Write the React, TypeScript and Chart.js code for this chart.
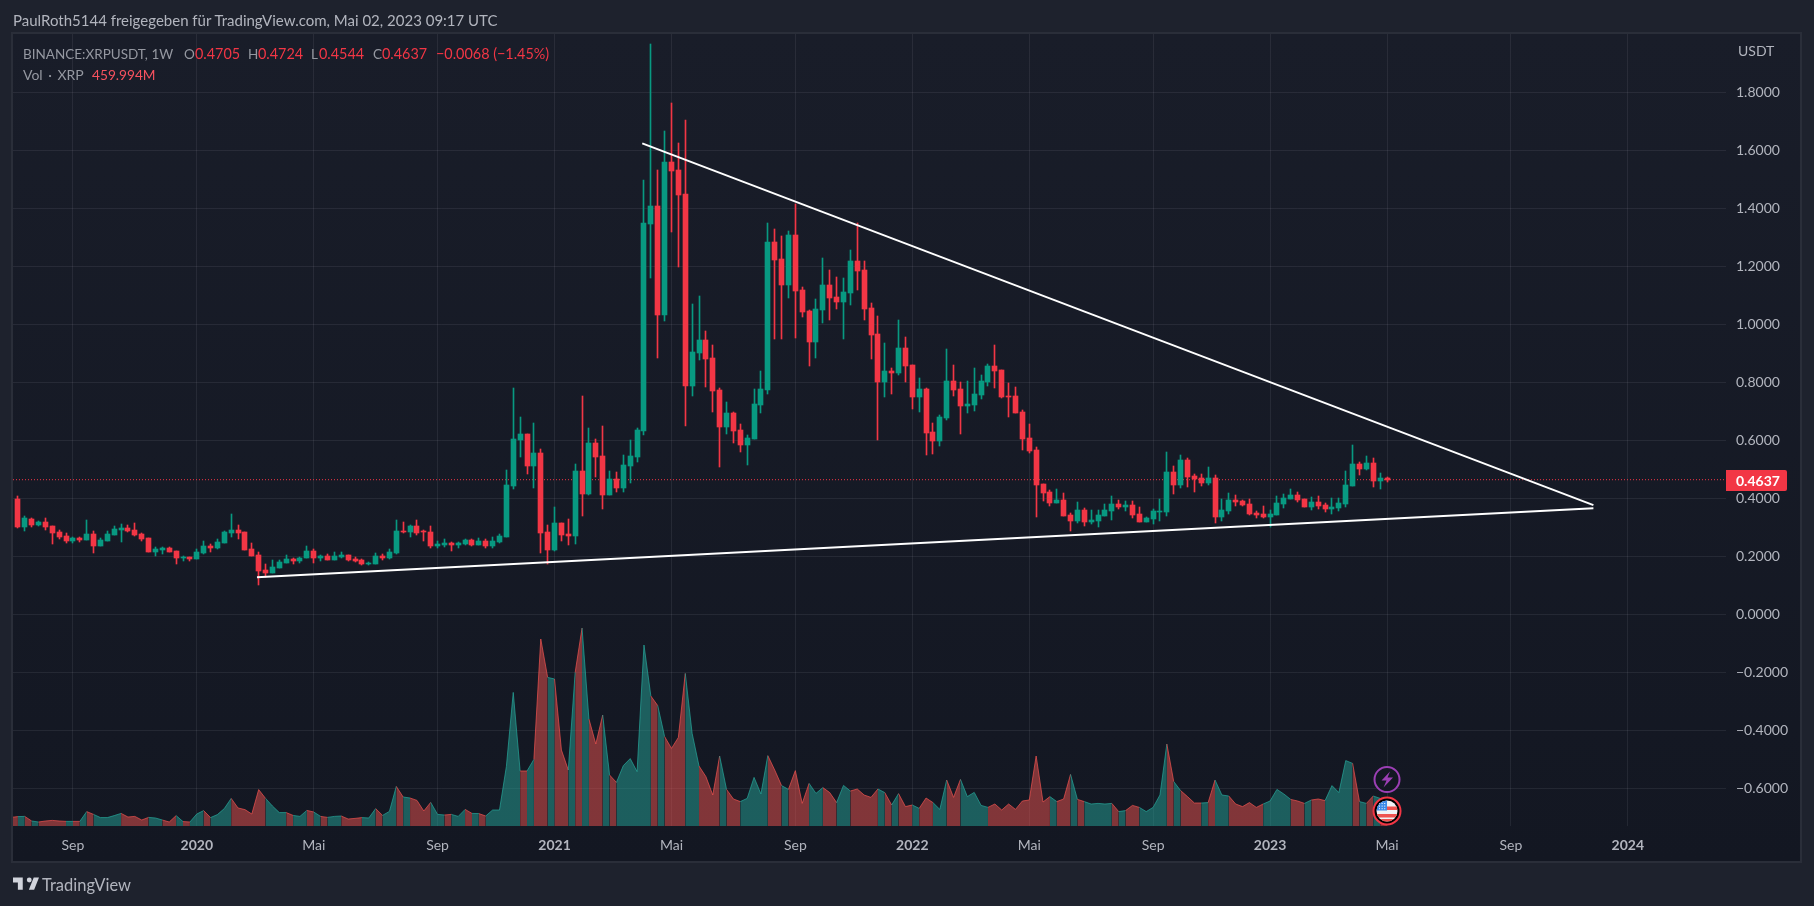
import React, { useEffect, useRef } from "react";
import { Chart, registerables } from "chart.js";

Chart.register(...registerables);

const titleText = "PaulRoth5144 freigegeben für TradingView.com, Mai 02, 2023 09:17 UTC";
const FONT = "Lato, 'Noto Sans', sans-serif";
const GREEN = "#089981";
const RED = "#F23645";

const opens = [.398,.301,.329,.308,.318,.304,.284,.270,.253,.263,.256,.277,.235,.253,.273,.291,.298,.291,.277,.263,.215,.222,.229,.218,.194,.198,.191,.211,.235,.229,.246,.280,.291,.284,.225,.205,.153,.142,.160,.177,.191,.184,.194,.218,.194,.201,.187,.198,.205,.191,.187,.173,.173,.201,.194,.211,.287,.284,.304,.287,.284,.235,.239,.246,.239,.242,.256,.239,.253,.235,.249,.267,.442,.601,.622,.511,.556,.284,.222,.315,.277,.270,.494,.415,.591,.546,.411,.467,.436,.511,.542,.632,1.346,1.408,1.032,1.5596,1.532,1.449,.787,.901,.946,.884,.773,.646,.694,.635,.584,.604,.722,.773,1.284,1.225,1.136,1.308,1.118,1.046,.939,1.049,1.1355,1.094,1.077,1.108,1.218,1.187,1.056,.9665,.801,.839,.832,.918,.860,.749,.777,.628,.597,.677,.804,.777,.718,.722,.756,.801,.856,.842,.753,.753,.698,.608,.566,.449,.422,.384,.394,.342,.322,.360,.318,.322,.339,.356,.380,.370,.377,.346,.318,.329,.353,.353,.491,.446,.532,.477,.470,.453,.470,.336,.356,.394,.391,.380,.349,.346,.336,.342,.380,.398,.411,.398,.370,.387,.377,.363,.367,.380,.442,.518,.501,.522,.460,.4705];
const highs = [.408,.339,.333,.322,.332,.304,.291,.280,.265,.266,.325,.287,.263,.287,.304,.311,.308,.315,.280,.263,.232,.232,.232,.218,.201,.198,.225,.253,.242,.260,.287,.346,.308,.284,.246,.215,.173,.187,.187,.204,.194,.198,.235,.225,.204,.208,.215,.215,.205,.198,.191,.180,.211,.208,.225,.325,.318,.308,.325,.291,.304,.253,.260,.249,.249,.260,.260,.263,.260,.266,.277,.498,.780,.680,.622,.660,.570,.308,.370,.315,.329,.518,.753,.642,.604,.649,.494,.491,.549,.601,.642,1.498,1.9665,1.532,1.6665,1.763,1.625,1.7045,1.070,1.0976,.977,.9286,.780,.732,.698,.656,.618,.777,.839,1.349,1.328,1.304,1.322,1.415,1.1286,1.049,1.087,1.228,1.187,1.163,1.1597,1.256,1.349,1.218,1.073,1.0286,.9355,.849,1.015,.956,.860,.815,.780,.660,.687,.915,.860,.801,.804,.849,.825,.863,.9286,.842,.797,.784,.704,.656,.577,.449,.429,.432,.418,.349,.387,.367,.360,.360,.380,.408,.394,.391,.391,.370,.336,.363,.398,.560,.511,.549,.539,.484,.484,.508,.480,.398,.418,.411,.394,.398,.356,.373,.360,.408,.415,.432,.422,.398,.404,.408,.384,.401,.401,.494,.584,.525,.546,.539,.487,.4724];
const lows = [.298,.287,.301,.304,.291,.242,.260,.246,.246,.249,.256,.211,.235,.253,.273,.249,.284,.270,.253,.215,.201,.209,.215,.173,.184,.184,.191,.208,.215,.225,.246,.266,.260,.222,.201,.101,.129,.142,.160,.177,.173,.177,.194,.177,.184,.187,.187,.194,.184,.180,.170,.170,.173,.187,.191,.208,.280,.266,.273,.253,.229,.229,.232,.218,.229,.239,.235,.239,.229,.229,.246,.267,.433,.542,.484,.436,.211,.173,.218,.253,.239,.242,.339,.411,.473,.363,.411,.422,.422,.453,.525,.618,1.160,.884,1.011,1.318,1.197,.649,.753,.877,.784,.698,.508,.622,.591,.560,.515,.604,.694,.760,.9493,.9493,1.091,.953,1.025,.856,.884,1.0045,1.015,1.053,.949,1.067,1.118,1.015,.880,.601,.749,.760,.825,.801,.708,.698,.549,.553,.580,.670,.753,.622,.694,.701,.742,.787,.780,.746,.680,.694,.566,.556,.335,.391,.373,.384,.339,.287,.315,.304,.311,.301,.339,.325,.363,.356,.332,.318,.318,.311,.322,.339,.415,.436,.439,.422,.442,.446,.315,.322,.346,.373,.373,.342,.332,.332,.301,.342,.367,.398,.387,.370,.360,.363,.353,.346,.356,.370,.442,.480,.498,.439,.432,.4544];
const closes = [.301,.332,.308,.318,.301,.280,.266,.253,.263,.256,.277,.235,.256,.277,.294,.298,.287,.273,.260,.215,.225,.229,.215,.194,.198,.191,.215,.235,.229,.249,.284,.291,.280,.222,.201,.149,.142,.163,.180,.191,.184,.194,.218,.194,.201,.187,.201,.205,.187,.184,.173,.177,.201,.194,.215,.287,.284,.304,.280,.284,.235,.242,.246,.239,.246,.256,.239,.253,.235,.253,.270,.446,.604,.622,.511,.556,.280,.222,.315,.273,.270,.494,.415,.591,.542,.411,.467,.436,.515,.546,.636,1.349,1.408,1.032,1.5596,1.529,1.446,.787,.9045,.946,.880,.770,.646,.694,.632,.584,.608,.725,.777,1.284,1.222,1.136,1.308,1.115,1.042,.939,1.0528,1.1355,1.091,1.077,1.1114,1.218,1.184,1.053,.963,.801,.839,.832,.918,.856,.749,.777,.625,.597,.680,.804,.773,.718,.725,.760,.804,.856,.839,.749,.749,.694,.604,.563,.446,.418,.384,.394,.339,.322,.360,.318,.325,.342,.360,.380,.370,.377,.342,.318,.332,.356,.356,.491,.446,.532,.473,.467,.453,.470,.336,.360,.394,.387,.377,.346,.342,.336,.346,.384,.401,.411,.394,.370,.387,.373,.363,.370,.384,.446,.518,.501,.522,.460,.470,.4637];
// weekly volume in millions of XRP; the first entry is the week just left of the visible candles
const volumes = [430,470,480,250,200,250,280,250,230,230,230,720,580,420,420,520,630,450,480,300,430,400,300,200,520,220,200,600,770,420,570,870,1380,900,820,600,1820,1380,1000,670,670,530,480,780,700,480,430,480,500,350,380,420,400,870,530,730,1980,1450,1400,1280,750,1180,580,550,580,480,830,630,620,500,800,800,2970,6680,2750,2750,3330,9350,7430,7350,3800,2800,7680,9900,5350,4100,5550,2550,2180,3020,3370,2720,9050,6500,6020,4470,3880,4430,7630,4630,3000,2470,1550,3500,1830,1350,1220,1380,2430,1600,3520,2800,2020,1830,2770,1130,2130,1630,1920,1670,1170,2030,1750,1850,1550,1430,1850,1670,1050,1620,970,1050,880,1400,1170,830,2300,1430,2330,1470,1680,1030,930,1100,800,1100,830,1250,1300,3500,1200,1470,1220,1350,2580,1330,1220,1100,1130,1100,1130,720,770,1030,930,720,930,1550,4100,2220,1770,1470,1150,1150,1170,2300,1550,1500,1100,970,1170,930,1100,1250,1830,1600,1330,1250,1130,1300,1350,1270,2020,1670,3270,3130,1220,1130,1500,1380,460];
const lastPrice = 0.4637;
const priceTicks = [-0.6, -0.4, -0.2, 0, 0.2, 0.4, 0.6, 0.8, 1.0, 1.2, 1.4, 1.6, 1.8];
const timeTickIndex = [8, 26, 43, 61, 78, 95, 113, 130, 147, 165, 182, 199, 217, 234];
const timeTickLabels = ["Sep", "2020", "Mai", "Sep", "2021", "Mai", "Sep", "2022", "Mai", "Sep", "2023", "Mai", "Sep", "2024"];
const upperTrend = [{ x: 90.75, y: 1.623 }, { x: 229, y: 0.376 }];
const lowerTrend = [{ x: 34.75, y: 0.1276 }, { x: 229, y: 0.3655 }];
const X_MIN = -0.71;
const X_MAX = 248.27;

const indices = opens.map((_, i) => i);
const isUp = (i: number) => closes[i] >= opens[i];

const snapPlugin = {
  id: "snapBars",
  afterDatasetUpdate(chart: any, args: any) {
    const meta = chart.getDatasetMeta(args.index);
    if (meta.type !== "bar") return;
    meta.data.forEach((el: any) => {
      const h = el.width / 2;
      el.x = Math.round(el.x - h) + h;
      const top = Math.round(Math.min(el.y, el.base));
      let bot = Math.round(Math.max(el.y, el.base));
      if (bot <= top) bot = top + 1;
      el.y = top;
      el.base = bot;
      el.height = bot - top;
    });
  },
};

const framePlugin = {
  id: "frame",
  beforeDraw(chart: any) {
    const { ctx, width, height } = chart;
    ctx.save();
    ctx.fillStyle = "#1E222D";
    ctx.fillRect(0, 0, width, height);
    ctx.fillStyle = "#2A2E39";
    ctx.fillRect(11, 32, 1791, 831);
    const g = ctx.createLinearGradient(0, 34, 0, 861);
    g.addColorStop(0, "#191D29");
    g.addColorStop(1, "#131722");
    ctx.fillStyle = g;
    ctx.fillRect(13, 34, 1787, 827);
    ctx.restore();
  },
  afterDraw(chart: any) {
    const { ctx, chartArea, scales } = chart;
    const py = scales.y.getPixelForValue(lastPrice);
    ctx.save();
    // price tag
    ctx.fillStyle = RED;
    ctx.beginPath();
    ctx.roundRect(chartArea.right, Math.round(py) - 10, 61, 21, [0, 2, 2, 0]);
    ctx.fill();
    ctx.fillStyle = "#FFFFFF";
    ctx.font = `bold 14px ${FONT}`;
    ctx.textBaseline = "middle";
    ctx.textAlign = "left";
    ctx.fillText(lastPrice.toFixed(4), chartArea.right + 10, Math.round(py) + 1);
    // event icons at the last bar
    const ix = scales.x.getPixelForValue(indices[indices.length - 1]);
    const iy1 = 779.5;
    const iy2 = 811;
    ctx.strokeStyle = "#9C3FB5";
    ctx.lineWidth = 2;
    ctx.beginPath();
    ctx.arc(ix, iy1, 12.5, 0, Math.PI * 2);
    ctx.fillStyle = "#131722";
    ctx.fill();
    ctx.stroke();
    ctx.fillStyle = "#9C3FB5";
    ctx.beginPath();
    ctx.moveTo(ix + 3, iy1 - 8);
    ctx.lineTo(ix - 5.5, iy1 + 1);
    ctx.lineTo(ix - 0.5, iy1 + 1);
    ctx.lineTo(ix - 3.5, iy1 + 8);
    ctx.lineTo(ix + 6, iy1 - 2);
    ctx.lineTo(ix + 0.5, iy1 - 2);
    ctx.closePath();
    ctx.fill();
    // flag
    ctx.beginPath();
    ctx.arc(ix, iy2, 13.5, 0, Math.PI * 2);
    ctx.fillStyle = "#000";
    ctx.fill();
    ctx.strokeStyle = RED;
    ctx.lineWidth = 2;
    ctx.stroke();
    ctx.save();
    ctx.beginPath();
    ctx.arc(ix, iy2, 10.5, 0, Math.PI * 2);
    ctx.clip();
    ctx.fillStyle = "#F0F2F5";
    ctx.fillRect(ix - 11, iy2 - 11, 22, 22);
    ctx.fillStyle = "#EF5350";
    ctx.fillRect(ix - 11, iy2 - 4.5, 22, 3.5);
    ctx.fillRect(ix - 11, iy2 + 3, 22, 3.5);
    ctx.fillRect(ix - 11, iy2 + 8, 22, 3);
    ctx.fillStyle = "#3D8BE8";
    ctx.fillRect(ix - 11, iy2 - 11, 11, 10.5);
    ctx.fillStyle = "#FFFFFF";
    for (let r = 0; r < 3; r++) for (let c = 0; c < 3; c++) ctx.fillRect(ix - 8 + c * 2.6, iy2 - 8 + r * 2.6, 1, 1);
    ctx.restore();
    ctx.restore();
  },
};

function T({ x, y, color = "#B2B5BE", size = 14, bold = false, spacing = 0, children }: any) {
  return (
    <span
      style={{
        position: "absolute",
        left: x,
        top: y - 10,
        lineHeight: "20px",
        color,
        fontSize: size,
        fontWeight: bold ? 700 : 400,
        fontFamily: FONT,
        whiteSpace: "nowrap",
        wordSpacing: spacing,
      }}
    >
      {children}
    </span>
  );
}

export default function App() {
  const ref = useRef<HTMLCanvasElement | null>(null);
  useEffect(() => {
    document.body.style.margin = "0";
    document.body.style.overflow = "hidden";
    const chart = new Chart(ref.current as HTMLCanvasElement, {
      type: "bar",
      data: {
        datasets: [
          {
            type: "line",
            label: "Volume",
            data: volumes.map((v, i) => ({ x: i - 1, y: v })),
            yAxisID: "yVol",
            xAxisID: "x",
            order: 5,
            pointRadius: 0,
            borderWidth: 1,
            tension: 0,
            fill: "origin",
            borderColor: "rgba(38,166,154,0.7)",
            backgroundColor: "rgba(38,166,154,0.5)",
            segment: {
              borderColor: (c: any) => (isUp(Math.max(c.p1DataIndex - 1, 0)) ? "rgba(38,166,154,0.7)" : "rgba(239,83,80,0.7)"),
              backgroundColor: (c: any) => (isUp(Math.max(c.p1DataIndex - 1, 0)) ? "rgba(38,166,154,0.5)" : "rgba(239,83,80,0.5)"),
            },
          },
          {
            type: "line",
            label: "Last price",
            data: [{ x: X_MIN, y: lastPrice }, { x: X_MAX, y: lastPrice }],
            order: 4,
            pointRadius: 0,
            borderWidth: 1,
            borderDash: [1, 2],
            borderColor: RED,
            fill: false,
          },
          {
            label: "Wicks",
            data: indices.map((i) => ({ x: i, y: [lows[i], highs[i]] })),
            order: 3,
            barThickness: 1,
            grouped: false,
            backgroundColor: (c: any) => (isUp(c.dataIndex) ? GREEN : RED),
          },
          {
            label: "XRPUSDT",
            data: indices.map((i) => ({ x: i, y: [opens[i], closes[i]] })),
            order: 2,
            barThickness: 5,
            grouped: false,
            backgroundColor: (c: any) => (isUp(c.dataIndex) ? GREEN : RED),
          },
          {
            type: "line",
            label: "Upper trend",
            data: upperTrend,
            order: 1,
            pointRadius: 0,
            borderWidth: 2,
            borderColor: "#FFFFFF",
            fill: false,
          },
          {
            type: "line",
            label: "Lower trend",
            data: lowerTrend,
            order: 1,
            pointRadius: 0,
            borderWidth: 2,
            borderColor: "#FFFFFF",
            fill: false,
          },
        ] as any,
      },
      options: {
        responsive: false,
        animation: false,
        events: [],
        layout: { padding: { left: 13, top: 34, right: 14, bottom: 45 } },
        plugins: { legend: { display: false }, tooltip: { enabled: false } },
        scales: {
          x: {
            type: "linear",
            min: X_MIN,
            max: X_MAX,
            bounds: "data",
            offset: false,
            border: { display: false },
            grid: { color: "rgba(240,243,250,0.075)", drawTicks: false, offset: false },
            afterBuildTicks: (s: any) => {
              s.ticks = timeTickIndex.map((v) => ({ value: v }));
            },
            afterFit: (s: any) => {
              s.height = 35;
            },
            ticks: {
              autoSkip: false,
              maxRotation: 0,
              padding: 11,
              color: "#B2B5BE",
              font: (c: any) => ({
                family: FONT,
                size: 14,
                weight: /^\d/.test(timeTickLabels[timeTickIndex.indexOf(c.tick?.value)] || "") ? 700 : 400,
              }),
              callback: (v: any) => timeTickLabels[timeTickIndex.indexOf(v)],
            },
          },
          y: {
            type: "linear",
            position: "right",
            min: -0.73,
            max: 2.0,
            bounds: "data",
            border: { display: false },
            grid: { color: "rgba(240,243,250,0.075)", drawTicks: false },
            afterBuildTicks: (s: any) => {
              s.ticks = priceTicks.map((v) => ({ value: v }));
            },
            afterFit: (s: any) => {
              s.width = 74;
            },
            ticks: {
              autoSkip: false,
              padding: 10,
              color: "#B2B5BE",
              font: { family: FONT, size: 14 },
              callback: (v: any) => (v < 0 ? "\u2212" : "") + Math.abs(v).toFixed(4),
            },
          },
          yVol: {
            type: "linear",
            display: false,
            min: 0,
            max: 39600,
            bounds: "data",
          },
        },
      } as any,
      plugins: [snapPlugin, framePlugin] as any,
    });
    return () => chart.destroy();
  }, []);

  return (
    <div style={{ position: "fixed", left: 0, top: 0, width: 1814, height: 906, overflow: "hidden", background: "#1E222D" }}>
      <canvas ref={ref} width={1814} height={906} style={{ display: "block", position: "absolute", left: 0, top: 0 }} />
      <T x={13} y={20} size={15}>{titleText}</T>
      <T x={23} y={54} size={13.5} color="#9598A1">BINANCE:XRPUSDT, 1W</T>
      <T x={184} y={54} size={13.5} color="#9598A1">O</T>
      <T x={195} y={54} size={14.4} color={RED}>0.4705</T>
      <T x={248} y={54} size={13.5} color="#9598A1">H</T>
      <T x={258} y={54} size={14.4} color={RED}>0.4724</T>
      <T x={311} y={54} size={13.5} color="#9598A1">L</T>
      <T x={319} y={54} size={14.4} color={RED}>0.4544</T>
      <T x={373} y={54} size={13.5} color="#9598A1">C</T>
      <T x={382} y={54} size={14.4} color={RED}>0.4637</T>
      <T x={436} y={54} size={14.4} color={RED}>{"\u22120.0068 (\u22121.45%)"}</T>
      <T x={23} y={75} spacing={2} color="#9598A1">Vol · XRP</T>
      <T x={92} y={75} size={13.7} color="#F7525F">459.994M</T>
      <T x={1738} y={51}>USDT</T>
      <svg width="26" height="14" viewBox="2 6 32 16" style={{ position: "absolute", left: 13, top: 877 }}>
        <path fill="#D1D4DC" d="M14 6H2v6h6v9h6V6zm14 15h-6.5l6-15H34l-6 15zM22 6a3 3 0 1 1 0 6 3 3 0 0 1 0-6z" />
      </svg>
      <T x={42} y={885} size={16.5}>TradingView</T>
    </div>
  );
}
